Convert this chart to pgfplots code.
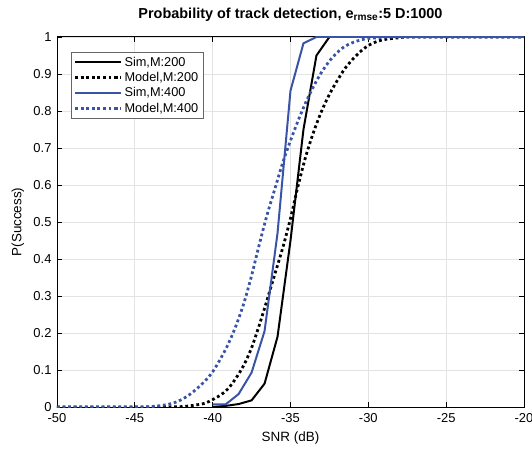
\documentclass[border=0pt]{standalone}
\usepackage{fontspec}
\setmainfont{Liberation Sans}
\usepackage{pgfplots}
\pgfplotsset{compat=1.18}
\definecolor{mblue}{RGB}{57,83,166}
\begin{document}
\begin{tikzpicture}
\begin{axis}[
  name=ax,
  scale only axis, width=467bp, height=370bp,
  xmin=-50, xmax=-20, ymin=0, ymax=1,
  xtick={-50,-45,...,-20},
  ytick={0,0.1,0.2,0.3,0.4,0.5,0.6,0.7,0.8,0.9,1},
  yticklabels={0,0.1,0.2,0.3,0.4,0.5,0.6,0.7,0.8,0.9,1},
  /pgf/number format/assume math mode=true,
  tick label style={font=\fontsize{13}{15}\selectfont},
  xticklabel style={yshift=-3bp},
  yticklabel style={xshift=-2bp},
  label style={font=\fontsize{13.5}{16}\selectfont},
  title style={font=\bfseries\fontsize{14.5}{17}\selectfont, at={(axis description cs:0.5,1.043)}, anchor=center},
  title={Probability of track detection, e\textsubscript{rmse}:5 D:1000},
  xlabel={SNR (dB)}, ylabel={P(Success)},
  xlabel style={at={(axis description cs:0.5,-0.084)}, anchor=center},
  ylabel style={at={(axis description cs:-0.0835,0.5)}, anchor=center},
  grid=major, major grid style={gray!22, line width=0.8pt},
  tick align=inside, major tick length=5bp,
  tick style={black, line width=0.8pt},
  axis line style={black, line width=1pt},
  legend style={at={(0.029,0.96)}, anchor=north west, draw=gray!80!black,
    font=\fontsize{12.8}{14}\selectfont, row sep=0.6bp, inner sep=3bp},
  legend cell align=left,
  legend image code/.code={\draw[#1] plot coordinates {(0bp,0bp) (46bp,0bp)};},
]
\addplot[black, line width=2pt] coordinates {
(-40,0) (-39.167,0.003) (-38.333,0.008) (-37.5,0.018) (-36.667,0.063)
(-35.833,0.19) (-35,0.45) (-34.167,0.75) (-33.333,0.95) (-32.5,1) (-20,1)};
\addlegendentry{Sim,M:200}
\addplot[black, line width=2.8pt, dash pattern=on 2.8pt off 2.8pt, smooth] coordinates {
(-50,0) (-45,0) (-43,0.0005) (-42,0.001) (-41.5,0.003) (-41,0.006) (-40.5,0.01)
(-40,0.02) (-39.5,0.032) (-39,0.05) (-38.5,0.078) (-38,0.113) (-37.5,0.16)
(-37,0.222) (-36.5,0.29) (-36,0.36) (-35.5,0.43) (-35,0.51) (-34.5,0.6)
(-34,0.68) (-33.5,0.745) (-33,0.8) (-32.5,0.845) (-32,0.882) (-31.5,0.915)
(-31,0.94) (-30.5,0.961) (-30,0.977) (-29.5,0.987) (-29,0.993) (-28,0.998)
(-27,1) (-20,1)};
\addlegendentry{Model,M:200}
\addplot[mblue, line width=2pt] coordinates {
(-40,0.007) (-39.167,0.007) (-38.333,0.035) (-37.5,0.093) (-36.667,0.205)
(-35.833,0.47) (-35,0.855) (-34.167,0.983) (-33.333,1) (-20,1)};
\addlegendentry{Sim,M:400}
\addplot[mblue, line width=2.8pt, dash pattern=on 2.8pt off 2.8pt, smooth] coordinates {
(-50,0) (-45,0) (-44,0.001) (-43.5,0.003) (-43,0.006) (-42.5,0.011) (-42,0.02)
(-41.5,0.033) (-41,0.05) (-40.5,0.07) (-40,0.095) (-39.5,0.13) (-39,0.17)
(-38.5,0.22) (-38,0.28) (-37.5,0.355) (-37,0.44) (-36.5,0.52) (-36,0.59)
(-35.5,0.66) (-35,0.72) (-34.5,0.775) (-34,0.825) (-33.5,0.868) (-33,0.905)
(-32.5,0.935) (-32,0.958) (-31.5,0.975) (-31,0.985) (-30.5,0.992) (-30,0.996)
(-29,0.999) (-28,1) (-20,1)};
\addlegendentry{Model,M:400}
\end{axis}
\pgfresetboundingbox
\path[use as bounding box] ([xshift=-57bp,yshift=-42bp]ax.south west) rectangle ([xshift=8bp,yshift=37bp]ax.north east);
\end{tikzpicture}
\end{document}
